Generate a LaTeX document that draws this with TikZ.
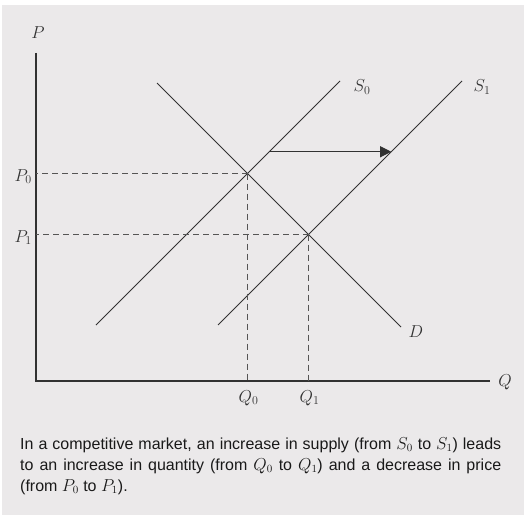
\documentclass[tikz,border=0pt]{standalone}
\usepackage{fontspec}
\newfontfamily\captionfont{Liberation Sans}
\usepackage{tikz}
\usetikzlibrary{arrows.meta,positioning,calc}
\usepackage{xcolor}
\definecolor{panelgrey}{RGB}{235,233,234}
\definecolor{linegrey}{RGB}{50,50,50}
\definecolor{dashgrey}{RGB}{85,85,85}

\tikzset{
  axis/.style={draw=linegrey,line width=1.3pt},
  curve/.style={draw=linegrey,line width=1pt},
  guide/.style={draw=dashgrey,line width=1pt,dash pattern=on 6pt off 4pt},
  lbl/.style={font=\fontsize{17}{20}\selectfont,inner sep=0pt,text=linegrey}
}

\begin{document}
\begin{tikzpicture}[x=1pt,y=1pt]
  \useasboundingbox (0,0) rectangle (524,515);
  \fill[panelgrey] (2,0) rectangle (524,510);

  % axes
  \coordinate (O) at (36,134);
  \coordinate (Ptop) at (36,462);
  \coordinate (Qend) at (490,134);
  \draw[axis] (Ptop) -- (O) -- (Qend);
  \node[lbl] (P) at (38,482) {$P$};
  \node[lbl] (Q) at (505,133) {$Q$};

  % supply and demand
  \coordinate (s0lo) at (96,190);  \coordinate (s0hi) at (340,434);
  \coordinate (s1lo) at (218,190); \coordinate (s1hi) at (462,434);
  \coordinate (dhi) at (157,432);  \coordinate (dlo) at (401,188);
  \draw[curve] (s0lo) -- (s0hi);
  \draw[curve] (s1lo) -- (s1hi);
  \draw[curve] (dhi) -- (dlo);
  \node[lbl] (S0) at (362,428) {$S_0$};
  \node[lbl] (S1) at (482,428) {$S_1$};
  \node[lbl] (D) at (416,183) {$D$};

  % equilibria
  \coordinate (E0) at (intersection of s0lo--s0hi and dhi--dlo);
  \coordinate (E1) at (intersection of s1lo--s1hi and dhi--dlo);
  \draw[guide] (E0) -- (E0 -| O);
  \draw[guide] (E1) -- (E1 -| O);
  \draw[guide] (E0) -- (E0 |- O);
  \draw[guide] (E1) -- (E1 |- O);
  \node[lbl,anchor=east] (P0) at ($(E0 -| O)+(-4,-3)$) {$P_0$};
  \node[lbl,anchor=east] (P1) at ($(E1 -| O)+(-4,-3)$) {$P_1$};
  \node[lbl,anchor=north] (Q0) at ($(E0 |- O)+(1,-9)$) {$Q_0$};
  \node[lbl,anchor=north] (Q1) at ($(E1 |- O)+(1,-9)$) {$Q_1$};

  % shift of supply
  \coordinate (a0) at ($(s0lo)!.71!(s0hi)$);
  \coordinate (a1) at ($(s1lo)!.71!(s1hi)$);
  \draw[curve,-{Triangle[length=11pt,width=11pt]}] (a0) -- (a1);

  % caption
  \node[anchor=north west,text width=481pt,align=justify,inner sep=0pt,
        font=\captionfont\fontsize{16}{21}\selectfont,text=black!90] (cap) at (20,78) {
    In a competitive market, an increase in supply (from $S_0$ to $S_1$) leads\linebreak
    to an increase in quantity (from $Q_0$ to $Q_1$) and a decrease in price\linebreak
    (from $P_0$ to $P_1$).
  };
\end{tikzpicture}
\end{document}
